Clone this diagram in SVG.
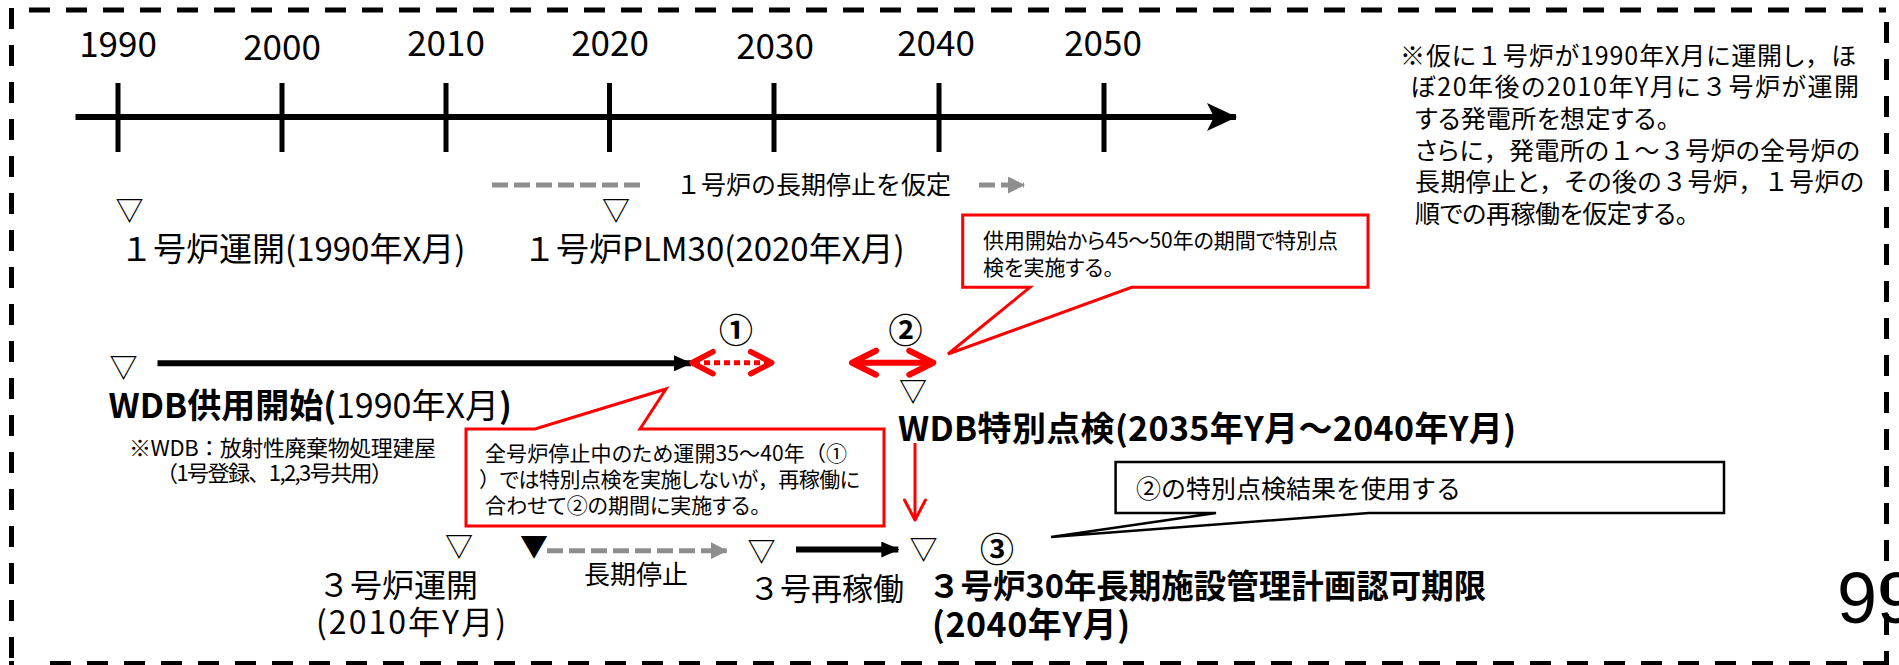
<svg xmlns="http://www.w3.org/2000/svg" width="1899" height="665" viewBox="0 0 1899 665">
<style>
text { font-family: "Noto Sans CJK JP", "Noto Sans", sans-serif; fill: #000; }
.yr { font-size: 35px; text-anchor: middle; }
.tri { font-size: 28px; text-anchor: middle; font-weight: 500; }
.lbl { font-size: 33px; }
.mid { text-anchor: middle; }
.b { font-weight: bold; }
.n { font-weight: normal; }
.note { font-size: 25px; font-feature-settings: "palt"; }
.co { font-size: 21px; font-feature-settings: "palt"; }
.fw { font-feature-settings: normal; }
.circ { font-size: 34px; font-weight: bold; text-anchor: middle; }
.bd { stroke: #000; stroke-width: 5; stroke-dasharray: 21 16; fill: none; }
.axis { stroke: #000; stroke-width: 6; fill: none; }
.tick { stroke: #000; stroke-width: 5; }
.blk { stroke: #000; stroke-width: 6; fill: none; }
.gry { stroke: #8e8e8e; stroke-width: 5; fill: none; stroke-dasharray: 16 6; }
.red { stroke: #ff0000; fill: none; }
.callr { stroke: #ff0000; stroke-width: 3; fill: #fff; }
.callk { stroke: #000; stroke-width: 2.5; fill: #fff; }
</style>
<defs>
<marker id="ahAxis" markerUnits="userSpaceOnUse" viewBox="0 0 30 30" markerWidth="30" markerHeight="30" refX="29" refY="15" orient="auto">
<path d="M0,1 L30,15 L0,29 L7,15 Z" fill="#000"/>
</marker>
<marker id="ahBlk" markerUnits="userSpaceOnUse" viewBox="0 0 18 16" markerWidth="18" markerHeight="16" refX="17" refY="8" orient="auto">
<path d="M0,0 L18,8 L0,16 Z" fill="#000"/>
</marker>
<marker id="ahGry" markerUnits="userSpaceOnUse" viewBox="0 0 17 17" markerWidth="17" markerHeight="17" refX="16" refY="8.5" orient="auto">
<path d="M0,0 L17,8.5 L0,17 Z" fill="#8e8e8e"/>
</marker>
<marker id="chevR" markerUnits="userSpaceOnUse" viewBox="-28 -16 32 32" markerWidth="32" markerHeight="32" refX="0" refY="0" orient="auto-start-reverse">
<path d="M-21,-11 L0,0 L-21,11" fill="none" stroke="#ff0000" stroke-width="5.5" stroke-linecap="round" stroke-linejoin="round"/>
</marker>
<marker id="chevR2" markerUnits="userSpaceOnUse" viewBox="-28 -16 32 32" markerWidth="32" markerHeight="32" refX="0" refY="0" orient="auto-start-reverse">
<path d="M-24,-12 L0,0 L-24,12" fill="none" stroke="#ff0000" stroke-width="6" stroke-linecap="round" stroke-linejoin="round"/>
</marker>
<marker id="chevV" markerUnits="userSpaceOnUse" viewBox="-24 -14 28 28" markerWidth="28" markerHeight="28" refX="0" refY="0" orient="auto">
<path d="M-20,-10.5 L0,0 L-20,10.5" fill="none" stroke="#ff0000" stroke-width="3" stroke-linecap="round" stroke-linejoin="round"/>
</marker>
</defs>

<rect width="1899" height="665" fill="#fff"/>

<g id="page-number">
<text x="1837" y="623" style="font-family:'Liberation Sans',Arial,sans-serif;font-size:72px">99</text>
</g>

<g id="frame">
<line class="bd" x1="29" y1="10" x2="1886" y2="10"/>
<line class="bd" x1="11.5" y1="8" x2="11.5" y2="665"/>
<line class="bd" x1="1886.5" y1="22" x2="1886.5" y2="665"/>
<line class="bd" x1="50" y1="663.5" x2="1886" y2="663.5"/>
<line stroke="#000" stroke-width="5" x1="9" y1="663.5" x2="14" y2="663.5"/>
</g>

<g id="connectors">
<line class="axis" x1="75.5" y1="117" x2="1236" y2="117" marker-end="url(#ahAxis)"/>
<g id="ticks">
<line class="tick" x1="118" y1="83" x2="118" y2="152"/>
<line class="tick" x1="282" y1="83" x2="282" y2="152"/>
<line class="tick" x1="446" y1="83" x2="446" y2="152"/>
<line class="tick" x1="609.5" y1="83" x2="609.5" y2="152"/>
<line class="tick" x1="774" y1="83" x2="774" y2="152"/>
<line class="tick" x1="939" y1="83" x2="939" y2="152"/>
<line class="tick" x1="1104" y1="83" x2="1104" y2="152"/>
</g>
<line class="gry" x1="492" y1="185" x2="642" y2="185"/>
<line class="gry" x1="979" y1="185" x2="1024" y2="185" marker-end="url(#ahGry)"/>
<line class="blk" x1="157.5" y1="363.3" x2="691" y2="363.3" marker-end="url(#ahBlk)"/>
<line class="red" stroke-width="5" stroke-dasharray="6 4" stroke-dashoffset="-2" x1="692" y1="362.7" x2="771.7" y2="362.7" marker-start="url(#chevR)" marker-end="url(#chevR)"/>
<line class="red" stroke-width="6" x1="852" y1="362.7" x2="933.3" y2="362.7" marker-start="url(#chevR2)" marker-end="url(#chevR2)"/>
<line class="red" stroke-width="3" x1="915" y1="443" x2="915" y2="520" marker-end="url(#chevV)"/>
<line class="gry" x1="547" y1="550.7" x2="726.7" y2="550.7" marker-end="url(#ahGry)"/>
<line class="blk" x1="796" y1="549.5" x2="898.3" y2="549.5" marker-end="url(#ahBlk)"/>
</g>

<g id="years">
<text class="yr" x="118" y="57">1990</text>
<text class="yr" x="282" y="60">2000</text>
<text class="yr" x="446" y="55.5">2010</text>
<text class="yr" x="610" y="55.5">2020</text>
<text class="yr" x="775" y="59">2030</text>
<text class="yr" x="936" y="55.5">2040</text>
<text class="yr" x="1103" y="55.5">2050</text>
</g>

<g id="n-unit1-stop">
<text x="676" y="194" style="font-size:25px">１号炉の長期停止を仮定</text>
</g>

<g id="n-unit1-start">
<text class="tri" x="129.5" y="221">▽</text>
<text class="lbl" x="120" y="261">１号炉運開(1990年X月)</text>
</g>

<g id="n-unit1-plm30">
<text class="tri" x="616" y="221">▽</text>
<text class="lbl" x="523" y="261">１号炉PLM30(2020年X月)</text>
</g>

<g id="n-note">
<text class="note" x="1400" y="64.5" textLength="456">※仮に<tspan class="fw">１</tspan>号炉が1990年X月に運開し<tspan class="fw">，</tspan>ほ</text>
<text class="note" x="1410" y="96" textLength="449">ぼ20年後の2010年Y月に<tspan class="fw">３</tspan>号炉が運開</text>
<text class="note" x="1415" y="127.5" textLength="254">する発電所を想定する。</text>
<text class="note" x="1415" y="159.5" textLength="445">さらに<tspan class="fw">，</tspan>発電所の<tspan class="fw">１～３</tspan>号炉の全号炉の</text>
<text class="note" x="1415" y="191" textLength="449">長期停止と<tspan class="fw">，</tspan>その後の<tspan class="fw">３</tspan>号炉<tspan class="fw">，１</tspan>号炉の</text>
<text class="note" x="1415" y="222.5" textLength="273">順での再稼働を仮定する。</text>
</g>

<g id="n-callout-45-50">
<path class="callr" d="M962.7,215 H1368 V287.3 H1131.7 L948,354 L1030,287.3 H962.7 Z"/>
<text class="co" x="983" y="248" textLength="355">供用開始から45～50年の期間で特別点</text>
<text class="co" x="983" y="274.5">検を実施する。</text>
</g>

<g id="n-wdb-start">
<text class="tri" x="123.5" y="378">▽</text>
<text x="108.6" y="418" style="font-size:34px"><tspan class="b">WDB供用開始(</tspan><tspan class="n">1990年X月</tspan><tspan class="b">)</tspan></text>
<text x="129" y="456" style="font-size:22px" textLength="307">※WDB：放射性廃棄物処理建屋</text>
<text x="156" y="480.5" style="font-size:22px" textLength="237">（1号登録、1,2,3号共用）</text>
</g>

<g id="n-period1">
<text class="circ" x="736" y="343">①</text>
</g>

<g id="n-period2">
<text class="circ" x="905.5" y="343">②</text>
</g>

<g id="n-wdb-special">
<text class="tri" x="913" y="402">▽</text>
<text class="b" x="898" y="441" style="font-size:34px" textLength="618">WDB特別点検(2035年Y月～2040年Y月)</text>
</g>

<g id="n-callout-all-stop">
<path class="callr" d="M466,429 H535 L666,389 L640,429 H884 V526 H466 Z"/>
<text class="co" x="485" y="461" textLength="362">全号炉停止中のため運開35～40年<tspan class="fw">（</tspan>①</text>
<text class="co" x="479" y="487" textLength="381"><tspan class="fw">）</tspan>では特別点検を実施しないが<tspan class="fw">，</tspan>再稼働に</text>
<text class="co" x="485" y="513">合わせて②の期間に実施する。</text>
</g>

<g id="n-callout-use-result">
<path class="callk" d="M1115.6,462 H1724 V513 H1369 L1051,537 L1216,513 H1115.6 Z"/>
<text x="1136" y="498" style="font-size:25px">②の特別点検結果を使用する</text>
</g>

<g id="n-unit3-start">
<text class="tri" x="459" y="557">▽</text>
<text class="mid" x="398" y="597" style="font-size:32px">３号炉運開</text>
<text class="mid" x="411" y="634" style="font-size:32px" textLength="190">(2010年Y月)</text>
</g>

<g id="n-long-stop">
<text class="tri" x="534" y="557">▼</text>
<text x="584" y="584" style="font-size:26px">長期停止</text>
</g>

<g id="n-unit3-restart">
<text class="tri" x="761.5" y="562">▽</text>
<text x="749" y="600" style="font-size:31px">３号再稼働</text>
</g>

<g id="n-unit3-limit">
<text class="tri" x="923.5" y="560">▽</text>
<text class="circ" x="997" y="562">③</text>
<text class="b" x="928" y="598" style="font-size:32.5px">３号炉30年長期施設管理計画認可期限</text>
<text class="b" x="932" y="637" style="font-size:34px" textLength="198">(2040年Y月)</text>
</g>
</svg>
